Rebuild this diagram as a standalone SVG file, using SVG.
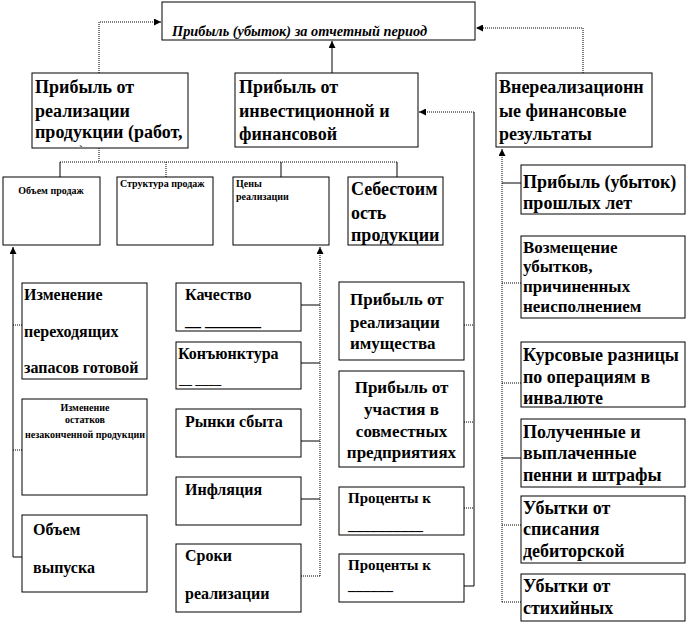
<svg xmlns="http://www.w3.org/2000/svg" width="688" height="625" viewBox="0 0 688 625">
<style>
.box{fill:#fff;stroke:#000;stroke-width:1}
.t{font-family:'Liberation Serif','DejaVu Serif','Times New Roman',serif;font-weight:bold;fill:#000}
.f18{font-size:18px}
.f17{font-size:17px}
.f16{font-size:16px}
.f15{font-size:15px}
.f13{font-size:13px}
.f10{font-size:10px}
.mid{text-anchor:middle}
.sol{stroke:#000;stroke-width:1;fill:none}
.dot{stroke:#000;stroke-width:1;fill:none;stroke-dasharray:1 1}
</style>
<defs>
<marker id="ah" markerUnits="userSpaceOnUse" markerWidth="7" markerHeight="7" refX="7" refY="3.5" orient="auto">
<path d="M0,0 L7,3.5 L0,7 z" fill="#000"/>
</marker>
</defs>
<rect width="688" height="625" fill="#fff"/>
<g id="connectors">
<path class="dot" d="M99,73 V22 H161" marker-end="url(#ah)"/>
<path class="sol" d="M332,73 V41" marker-end="url(#ah)"/>
<path class="dot" d="M583,73 V28 H476" marker-end="url(#ah)"/>
<path class="dot" d="M99,148 V162 M60,162 H397 M166,162 V177"/>
<path class="sol" d="M60,162 V177 M281,162 V177 M397,162 V177"/>
<path class="sol" d="M13,557 V247" marker-end="url(#ah)"/>
<path class="dot" d="M13,325 H22 M13,450 H22"/>
<path class="sol" d="M13,557 H22"/>
<path class="dot" d="M320,576 V247" marker-end="url(#ah)"/>
<path class="sol" d="M301,305 H320 M301,363 H320 M301,441 H320 M301,499 H320"/>
<path class="dot" d="M301,576 H320"/>
<path class="sol" d="M474,586 V112"/>
<path class="dot" d="M474,112 H419" marker-end="url(#ah)"/>
<path class="dot" d="M464,325 H474 M464,422 H474 M464,508 H474"/>
<path class="sol" d="M464,586 H474"/>
<path class="dot" d="M502,602 V149" marker-end="url(#ah)"/>
<path class="sol" d="M502,183 H521 M502,458 H521"/>
<path class="dot" d="M502,283 H521 M502,383 H521 M502,525 H521 M502,602 H521"/>
</g>
<g id="n-total">
<rect class="box" x="162" y="2" width="313" height="38"/>
<text class="t" x="172" y="36" font-size="14" font-style="italic" textLength="255" lengthAdjust="spacingAndGlyphs">Прибыль (убыток) за отчетный период</text>
</g>
<g id="n-sales">
<rect class="box" x="32" y="73" width="156" height="75"/>
<text class="t f18" x="35" y="93">Прибыль от</text>
<text class="t f18" x="35" y="117">реализации</text>
<text class="t f18" x="35" y="138">продукции (работ,</text>
<text class="t" font-size="11" x="79" y="153">`</text>
</g>
<g id="n-invest">
<rect class="box" x="235" y="73" width="183" height="74"/>
<text class="t f18" x="239" y="93">Прибыль от</text>
<text class="t f18" x="239" y="117">инвестиционной и</text>
<text class="t f18" x="239" y="140">финансовой</text>
</g>
<g id="n-nonop">
<rect class="box" x="496" y="73" width="156" height="74"/>
<text class="t f18" x="499" y="93">Внереализационн</text>
<text class="t f18" x="499" y="117">ые финансовые</text>
<text class="t f18" x="499" y="140">результаты</text>
</g>
<g id="n-volume">
<rect class="box" x="3" y="177" width="97" height="68"/>
<text class="t f10 mid" x="51" y="194">Объем продаж</text>
</g>
<g id="n-structure">
<rect class="box" x="117" y="177" width="96" height="68"/>
<text class="t f10" x="120" y="187">Структура продаж</text>
</g>
<g id="n-prices">
<rect class="box" x="233" y="177" width="96" height="68"/>
<text class="t f10" x="236" y="187">Цены</text>
<text class="t f10" x="236" y="200">реализации</text>
</g>
<g id="n-cost">
<rect class="box" x="348" y="177" width="95" height="68"/>
<text class="t f18" x="351" y="195">Себестоим</text>
<text class="t f18" x="351" y="219">ость</text>
<text class="t f18" x="351" y="241">продукции</text>
</g>
<g id="n-stock">
<rect class="box" x="22" y="283" width="125" height="96"/>
<text class="t f16" x="24" y="300">Изменение</text>
<text class="t f16" x="24" y="337">переходящих</text>
<text class="t f16" x="24" y="373">запасов готовой</text>
</g>
<g id="n-wip">
<rect class="box" x="22" y="399" width="125" height="96"/>
<text class="t f10 mid" x="85" y="411">Изменение</text>
<text class="t f10 mid" x="85" y="423">остатков</text>
<text class="t f10 mid" x="85" y="438" textLength="120" lengthAdjust="spacingAndGlyphs">незаконченной продукции</text>
</g>
<g id="n-output">
<rect class="box" x="22" y="515" width="125" height="77"/>
<text class="t f16" x="33" y="535">Объем</text>
<text class="t f16" x="33" y="573">выпуска</text>
</g>
<g id="n-quality">
<rect class="box" x="176" y="283" width="125" height="48"/>
<text class="t f16" x="185" y="300">Качество</text>
<text class="t f16" x="185" y="326">__ _______</text>
</g>
<g id="n-market">
<rect class="box" x="176" y="342" width="125" height="47"/>
<text class="t f16" x="178" y="359">Конъюнктура</text>
<text class="t f13" x="179" y="384">__ ____</text>
</g>
<g id="n-outlets">
<rect class="box" x="176" y="409" width="125" height="48"/>
<text class="t f16" x="185" y="427">Рынки сбыта</text>
</g>
<g id="n-inflation">
<rect class="box" x="176" y="477" width="125" height="48"/>
<text class="t f16" x="185" y="495">Инфляция</text>
</g>
<g id="n-terms">
<rect class="box" x="176" y="544" width="125" height="68"/>
<text class="t f16" x="185" y="561">Сроки</text>
<text class="t f16" x="185" y="599">реализации</text>
</g>
<g id="n-property">
<rect class="box" x="339" y="282" width="125" height="78"/>
<text class="t f17" x="350" y="305">Прибыль от</text>
<text class="t f17" x="350" y="328">реализации</text>
<text class="t f17" x="350" y="349">имущества</text>
</g>
<g id="n-joint">
<rect class="box" x="339" y="371" width="125" height="96"/>
<text class="t f17 mid" x="401.5" y="393">Прибыль от</text>
<text class="t f17 mid" x="401.5" y="415">участия в</text>
<text class="t f17 mid" x="401.5" y="437">совместных</text>
<text class="t f17 mid" x="401.5" y="458">предприятиях</text>
</g>
<g id="n-interest1">
<rect class="box" x="339" y="487" width="125" height="48"/>
<text class="t f15" x="348" y="503">Проценты к</text>
<text class="t f15" x="348" y="530">__________</text>
</g>
<g id="n-interest2">
<rect class="box" x="339" y="554" width="125" height="48"/>
<text class="t f15" x="348" y="570">Проценты к</text>
<text class="t f15" x="348" y="590">______</text>
</g>
<g id="n-prior">
<rect class="box" x="521" y="165" width="164" height="49"/>
<text class="t f18" x="523" y="188">Прибыль (убыток)</text>
<text class="t f18" x="523" y="209">прошлых лет</text>
</g>
<g id="n-compensation">
<rect class="box" x="521" y="236" width="164" height="82"/>
<text class="t f17" x="523" y="253">Возмещение</text>
<text class="t f17" x="523" y="272">убытков,</text>
<text class="t f17" x="523" y="292">причиненных</text>
<text class="t f17" x="523" y="312">неисполнением</text>
</g>
<g id="n-fx">
<rect class="box" x="521" y="342" width="164" height="65"/>
<text class="t f18" x="523" y="361">Курсовые разницы</text>
<text class="t f18" x="523" y="383">по операциям в</text>
<text class="t f18" x="523" y="404">инвалюте</text>
</g>
<g id="n-penalties">
<rect class="box" x="521" y="419" width="164" height="68"/>
<text class="t f18" x="523" y="438">Полученные и</text>
<text class="t f18" x="523" y="459">выплаченные</text>
<text class="t f18" x="523" y="481">пенни и штрафы</text>
</g>
<g id="n-writeoff">
<rect class="box" x="521" y="496" width="164" height="67"/>
<text class="t f18" x="523" y="514">Убытки от</text>
<text class="t f18" x="523" y="535">списания</text>
<text class="t f18" x="523" y="557">дебиторской</text>
</g>
<g id="n-disaster">
<rect class="box" x="521" y="574" width="164" height="47"/>
<text class="t f18" x="523" y="592">Убытки от</text>
<text class="t f18" x="523" y="614">стихийных</text>
</g>
</svg>
